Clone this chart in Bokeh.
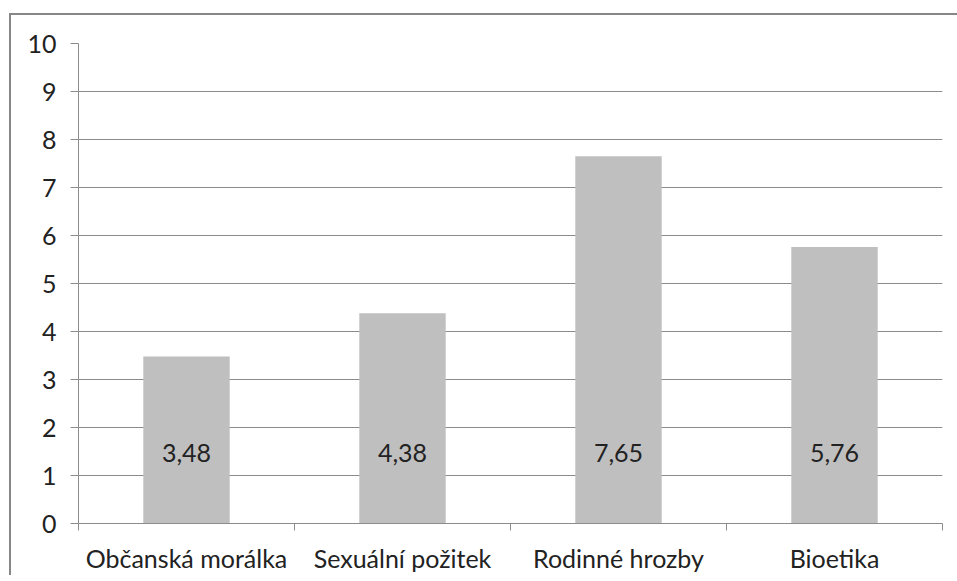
from bokeh.plotting import figure
from bokeh.models import FixedTicker, Range1d, ColumnDataSource, Spacer
from bokeh.layouts import column, row
from bokeh.embed import file_html
from bokeh.resources import INLINE
from bokeh.core.properties import value

categories = ["Občanská morálka", "Sexuální požitek", "Rodinné hrozby", "Bioetika"]
values = [3.48, 4.38, 7.65, 5.76]
value_labels = ["3,48", "4,38", "7,65", "5,76"]
y_ticks = list(range(0, 11))

FONT = "Lato"
FS = "25px"
TXT = "#222222"
GRID = "#8c8c8c"
BORDER = "#878787"

xs = [i + 0.5 for i in range(len(categories))]
bounds = list(range(len(categories) + 1))
src = ColumnDataSource(dict(x=xs, top=values, label=value_labels, base=[0] * len(values)))

p = figure(width=946, height=560,
           x_range=Range1d(0, len(categories)), y_range=Range1d(0, 10),
           output_backend="svg", toolbar_location=None,
           min_border_left=67, min_border_right=15, min_border_top=28, min_border_bottom=52)
p.outline_line_color = None
p.background_fill_color = "white"

p.vbar(x="x", top="top", bottom=0, width=0.4, source=src, color="#BFBFBF", line_color=None)
p.text(x="x", y="base", text="label", source=src, y_offset=-71,
       text_align="center", text_baseline="middle",
       text_font=value(FONT), text_font_size=FS, text_color=TXT)

p.xgrid.visible = False
p.ygrid.grid_line_color = GRID
p.ygrid.ticker = FixedTicker(ticks=y_ticks)

ya = p.yaxis[0]
ya.ticker = FixedTicker(ticks=y_ticks)
ya.major_tick_in = 0
ya.major_tick_out = 8
ya.minor_tick_out = 0
ya.minor_tick_in = 0
ya.axis_line_color = GRID
ya.major_tick_line_color = GRID
ya.major_label_text_font = FONT
ya.major_label_text_font_size = FS
ya.major_label_text_color = TXT
ya.major_label_standoff = 14

xa = p.xaxis[0]
xa.ticker = FixedTicker(ticks=xs, minor_ticks=bounds)
xa.major_label_overrides = {x: c for x, c in zip(xs, categories)}
xa.major_tick_in = 0
xa.major_tick_out = 0
xa.minor_tick_in = 0
xa.minor_tick_out = 7
xa.axis_line_color = GRID
xa.minor_tick_line_color = GRID
xa.major_label_text_font = FONT
xa.major_label_text_font_size = FS
xa.major_label_text_color = TXT
xa.major_label_standoff = 12

inner = row(Spacer(width=2, height=560, background=BORDER), p)
layout = row(Spacer(width=9, height=575),
             column(Spacer(height=13, width=948), Spacer(height=2, width=948, background=BORDER), inner))

open("out.html", "w").write(file_html(layout, INLINE))
